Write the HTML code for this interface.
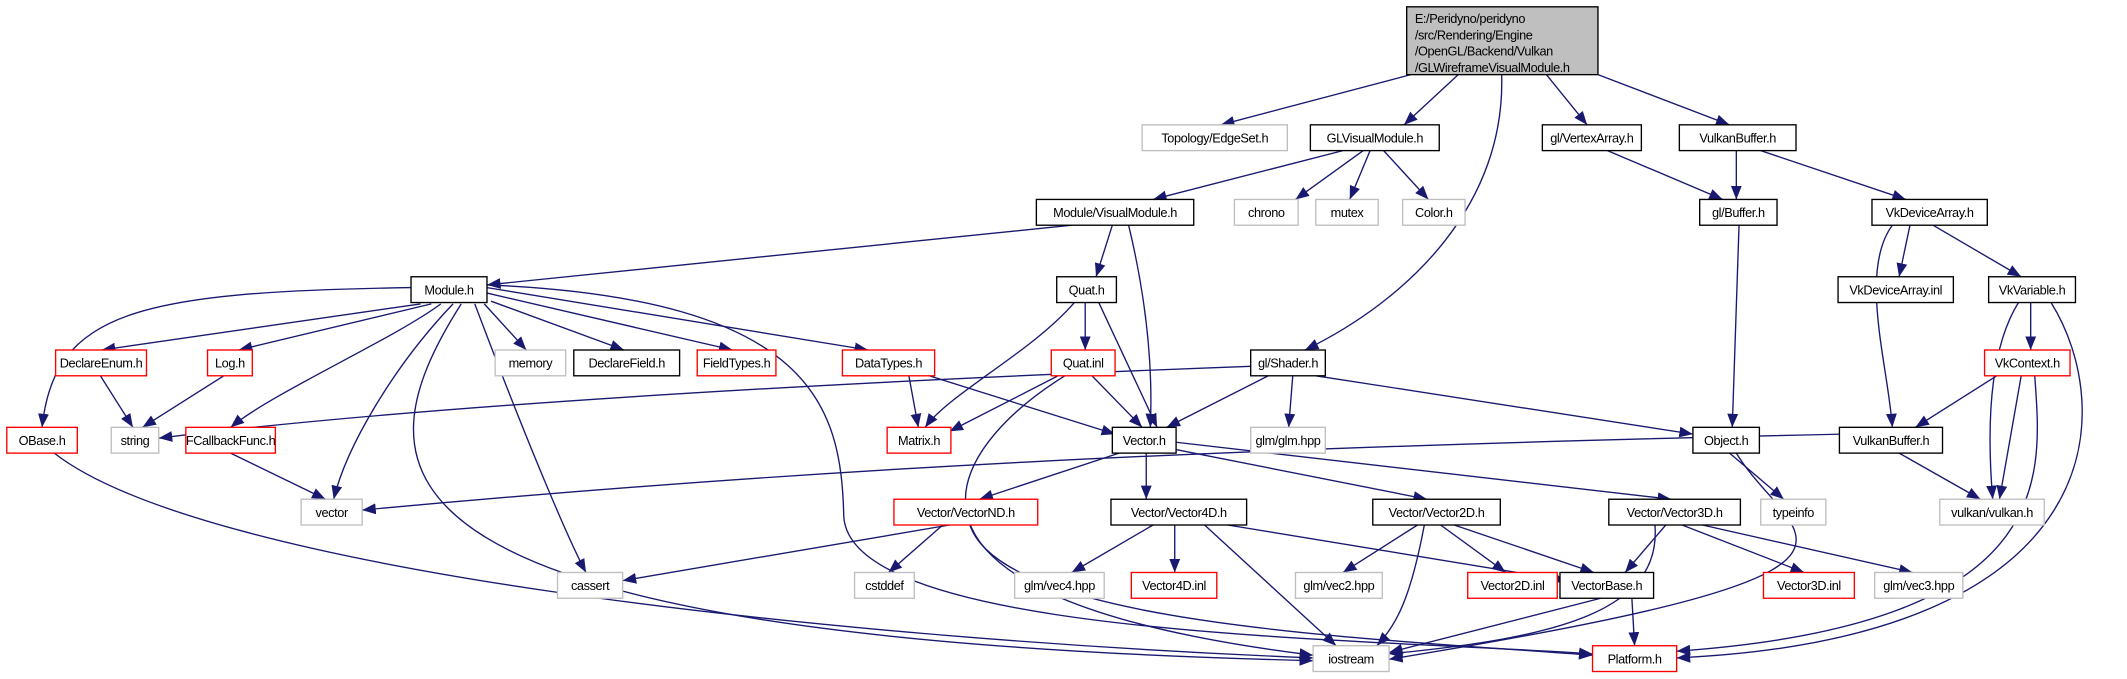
<!DOCTYPE html>
<html><head><meta charset="utf-8"><style>
html,body{margin:0;padding:0;background:#fff;}
svg{display:block}
text{font-family:"Liberation Sans",Arial,sans-serif;font-size:9.4px;letter-spacing:-0.3px;fill:#000;text-anchor:middle}
.e{fill:none;stroke:#191970;stroke-width:1;marker-end:url(#a)}
.k{fill:#fff;stroke:#000;stroke-width:1}
.r{fill:#fff;stroke:#ff0000;stroke-width:1}
.g{fill:#fff;stroke:#bfbfbf;stroke-width:1}
</style></head><body>
<svg width="2127" height="679" viewBox="0 0 1568 500.5" xmlns="http://www.w3.org/2000/svg">
<defs><marker id="a" viewBox="0 0 10 10" refX="10" refY="5" markerWidth="10" markerHeight="10" markerUnits="userSpaceOnUse" orient="auto"><path d="M0,1 L10,5 L0,9 z" fill="#191970"/></marker></defs>
<g>
<path class="e" d="M1040,55 L900,92"/>
<path class="e" d="M1075,55 L1035,92"/>
<path class="e" d="M1107,55 C1110,150 1040,220 962,258"/>
<path class="e" d="M1140,55 L1170,92"/>
<path class="e" d="M1178,55 L1275,92"/>
<path class="e" d="M990,111 L850,147"/>
<path class="e" d="M1005,111 L955,147"/>
<path class="e" d="M1010,111 L995,147"/>
<path class="e" d="M1020,111 L1053,147"/>
<path class="e" d="M1185,111 L1270,147"/>
<path class="e" d="M1280,111 L1280,147"/>
<path class="e" d="M1298,111 L1405,147"/>
<path class="e" d="M790,166 L359,210"/>
<path class="e" d="M820,166 L808,204"/>
<path class="e" d="M832,166 C845,220 850,270 848,315"/>
<path class="e" d="M1282,166 L1277,315"/>
<path class="e" d="M1408,166 L1400,204"/>
<path class="e" d="M1425,166 L1490,204"/>
<path class="e" d="M1395,166 C1370,200 1392,270 1395,315"/>
<path class="e" d="M1497,223 L1497,258"/>
<path class="e" d="M1488,223 C1465,260 1465,320 1469,368"/>
<path class="e" d="M1512,223 C1560,300 1560,470 1236,485"/>
<path class="e" d="M1472,277 L1412,315"/>
<path class="e" d="M1490,277 L1474,368"/>
<path class="e" d="M1500,277 C1505,350 1520,460 1236,480"/>
<path class="e" d="M800,223 L800,258"/>
<path class="e" d="M792,223 C760,260 700,290 682,315"/>
<path class="e" d="M810,223 L853,315"/>
<path class="e" d="M780,277 L700,318"/>
<path class="e" d="M805,277 L842,315"/>
<path class="e" d="M785,277 C700,330 620,440 968,483"/>
<path class="e" d="M670,277 L677,315"/>
<path class="e" d="M685,277 L822,320"/>
<path class="e" d="M922,270 C600,282 300,300 117,323"/>
<path class="e" d="M935,277 L860,315"/>
<path class="e" d="M953,277 L950,315"/>
<path class="e" d="M970,277 L1248,320"/>
<path class="e" d="M303,212 C100,215 40,230 31,315"/>
<path class="e" d="M310,224 L75,258"/>
<path class="e" d="M318,224 L176,258"/>
<path class="e" d="M325,224 C290,250 200,290 170,315"/>
<path class="e" d="M334,224 C290,270 255,330 246,368"/>
<path class="e" d="M340,224 C260,350 260,470 968,487"/>
<path class="e" d="M350,224 C390,330 420,400 432,422"/>
<path class="e" d="M357,224 L388,258"/>
<path class="e" d="M362,222 L460,258"/>
<path class="e" d="M359,216 L540,258"/>
<path class="e" d="M359,212 L640,258"/>
<path class="e" d="M359,210 C600,220 620,300 622,380 C625,470 1000,470 1174,482"/>
<path class="e" d="M74,277 L98,315"/>
<path class="e" d="M165,277 L105,315"/>
<path class="e" d="M170,334 L240,368"/>
<path class="e" d="M40,334 C150,420 600,470 968,485"/>
<path class="e" d="M825,334 L722,368"/>
<path class="e" d="M845,334 L845,368"/>
<path class="e" d="M865,331 L1052,368"/>
<path class="e" d="M867,326 L1232,368"/>
<path class="e" d="M1358,320 C900,330 600,345 267,376"/>
<path class="e" d="M1400,334 L1460,368"/>
<path class="e" d="M1275,334 L1315,368"/>
<path class="e" d="M1280,334 C1320,400 1430,420 1024,486"/>
<path class="e" d="M700,387 L459,428"/>
<path class="e" d="M695,387 L655,422"/>
<path class="e" d="M715,387 C740,460 1000,470 1174,483"/>
<path class="e" d="M850,387 L790,422"/>
<path class="e" d="M866,387 L866,422"/>
<path class="e" d="M888,387 L985,476"/>
<path class="e" d="M905,387 L1155,428"/>
<path class="e" d="M1045,387 L990,422"/>
<path class="e" d="M1062,387 L1110,422"/>
<path class="e" d="M1072,387 L1175,422"/>
<path class="e" d="M1050,387 C1040,440 1030,460 1015,476"/>
<path class="e" d="M1228,387 L1198,422"/>
<path class="e" d="M1240,387 L1330,422"/>
<path class="e" d="M1255,387 L1410,422"/>
<path class="e" d="M1220,387 C1225,450 1150,470 1024,482"/>
<path class="e" d="M1180,441 L1024,481"/>
<path class="e" d="M1203,441 L1205,476"/>
</g>
<g>
<rect x="1037" y="5" width="141" height="50" fill="#bfbfbf" stroke="#000"/>
<text x="1043" y="17" style="text-anchor:start">E:/Peridyno/peridyno</text>
<text x="1043" y="29" style="text-anchor:start">/src/Rendering/Engine</text>
<text x="1043" y="41" style="text-anchor:start">/OpenGL/Backend/Vulkan</text>
<text x="1043" y="53" style="text-anchor:start">/GLWireframeVisualModule.h</text>

<rect class="g" x="842" y="92" width="107" height="19"/><text x="895.5" y="105">Topology/EdgeSet.h</text>
<rect class="k" x="966" y="92" width="95" height="19"/><text x="1013.5" y="105">GLVisualModule.h</text>
<rect class="k" x="1137" y="92" width="73" height="19"/><text x="1173.5" y="105">gl/VertexArray.h</text>
<rect class="k" x="1238" y="92" width="86" height="19"/><text x="1281" y="105">VulkanBuffer.h</text>

<rect class="k" x="764" y="147" width="116" height="19"/><text x="822" y="160">Module/VisualModule.h</text>
<rect class="g" x="910" y="147" width="47" height="19"/><text x="933.5" y="160">chrono</text>
<rect class="g" x="970" y="147" width="46" height="19"/><text x="993" y="160">mutex</text>
<rect class="g" x="1034" y="147" width="46" height="19"/><text x="1057" y="160">Color.h</text>
<rect class="k" x="1253" y="147" width="57" height="19"/><text x="1281.5" y="160">gl/Buffer.h</text>
<rect class="k" x="1380" y="147" width="85" height="19"/><text x="1422.5" y="160">VkDeviceArray.h</text>

<rect class="k" x="303" y="204" width="56" height="19"/><text x="331" y="217">Module.h</text>
<rect class="k" x="779" y="204" width="44" height="19"/><text x="801" y="217">Quat.h</text>
<rect class="k" x="1355" y="204" width="85" height="19"/><text x="1397.5" y="217">VkDeviceArray.inl</text>
<rect class="k" x="1466" y="204" width="64" height="19"/><text x="1498" y="217">VkVariable.h</text>

<rect class="r" x="41" y="258" width="67" height="19"/><text x="74.5" y="271">DeclareEnum.h</text>
<rect class="r" x="153" y="258" width="33" height="19"/><text x="169.5" y="271">Log.h</text>
<rect class="g" x="365" y="258" width="52" height="19"/><text x="391" y="271">memory</text>
<rect class="k" x="423" y="258" width="78" height="19"/><text x="462" y="271">DeclareField.h</text>
<rect class="r" x="514" y="258" width="58" height="19"/><text x="543" y="271">FieldTypes.h</text>
<rect class="r" x="621" y="258" width="68" height="19"/><text x="655" y="271">DataTypes.h</text>
<rect class="r" x="775" y="258" width="47" height="19"/><text x="798.5" y="271">Quat.inl</text>
<rect class="k" x="922" y="258" width="55" height="19"/><text x="949.5" y="271">gl/Shader.h</text>
<rect class="r" x="1463" y="258" width="63" height="19"/><text x="1494.5" y="271">VkContext.h</text>

<rect class="r" x="5" y="315" width="52" height="19"/><text x="31" y="328">OBase.h</text>
<rect class="g" x="82" y="315" width="35" height="19"/><text x="99.5" y="328">string</text>
<rect class="r" x="137" y="315" width="66" height="19"/><text x="170" y="328">FCallbackFunc.h</text>
<rect class="r" x="654" y="315" width="47" height="19"/><text x="677.5" y="328">Matrix.h</text>
<rect class="k" x="820" y="315" width="47" height="19"/><text x="843.5" y="328">Vector.h</text>
<rect class="g" x="922" y="315" width="55" height="19"/><text x="949.5" y="328">glm/glm.hpp</text>
<rect class="k" x="1248" y="315" width="49" height="19"/><text x="1272.5" y="328">Object.h</text>
<rect class="k" x="1356" y="315" width="76" height="19"/><text x="1394" y="328">VulkanBuffer.h</text>

<rect class="g" x="222" y="368" width="45" height="19"/><text x="244.5" y="381">vector</text>
<rect class="r" x="659" y="368" width="106" height="19"/><text x="712" y="381">Vector/VectorND.h</text>
<rect class="k" x="819" y="368" width="100" height="19"/><text x="869" y="381">Vector/Vector4D.h</text>
<rect class="k" x="1012" y="368" width="94" height="19"/><text x="1059" y="381">Vector/Vector2D.h</text>
<rect class="k" x="1186" y="368" width="97" height="19"/><text x="1234.5" y="381">Vector/Vector3D.h</text>
<rect class="g" x="1298" y="368" width="48" height="19"/><text x="1322" y="381">typeinfo</text>
<rect class="g" x="1430" y="368" width="77" height="19"/><text x="1468.5" y="381">vulkan/vulkan.h</text>

<rect class="g" x="411" y="422" width="48" height="19"/><text x="435" y="435">cassert</text>
<rect class="g" x="630" y="422" width="44" height="19"/><text x="652" y="435">cstddef</text>
<rect class="g" x="748" y="422" width="66" height="19"/><text x="781" y="435">glm/vec4.hpp</text>
<rect class="r" x="834" y="422" width="63" height="19"/><text x="865.5" y="435">Vector4D.inl</text>
<rect class="g" x="955" y="422" width="64" height="19"/><text x="987" y="435">glm/vec2.hpp</text>
<rect class="r" x="1082" y="422" width="66" height="19"/><text x="1115" y="435">Vector2D.inl</text>
<rect class="k" x="1150" y="422" width="69" height="19"/><text x="1184.5" y="435">VectorBase.h</text>
<rect class="r" x="1300" y="422" width="67" height="19"/><text x="1333.5" y="435">Vector3D.inl</text>
<rect class="g" x="1382" y="422" width="65" height="19"/><text x="1414.5" y="435">glm/vec3.hpp</text>

<rect class="g" x="968" y="476" width="56" height="19"/><text x="996" y="489">iostream</text>
<rect class="r" x="1174" y="476" width="62" height="19"/><text x="1205" y="489">Platform.h</text>
</g>
</svg>
</body></html>
